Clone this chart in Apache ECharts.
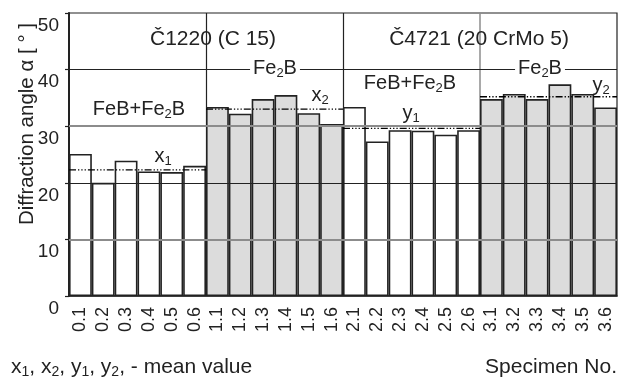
<!DOCTYPE html>
<html>
<head>
<meta charset="utf-8">
<script src="https://cdn.jsdelivr.net/npm/echarts@6/dist/echarts.min.js"></script>
<style>
html,body{margin:0;padding:0;background:#fff;}
#chart{width:618px;height:379px;}
</style>
</head>
<body>
<div id="chart"></div>
<script>
// ---- data ----
const categories = ['0.1','0.2','0.3','0.4','0.5','0.6',
                    '1.1','1.2','1.3','1.4','1.5','1.6',
                    '2.1','2.2','2.3','2.4','2.5','2.6',
                    '3.1','3.2','3.3','3.4','3.5','3.6'];
const angles = [25.1, 20.0, 23.9, 22.0, 21.9, 23.0,
                33.4, 32.2, 34.8, 35.5, 32.3, 30.4,
                33.4, 27.3, 29.3, 29.2, 28.5, 29.3,
                34.8, 35.7, 34.8, 37.4, 35.7, 33.3];
const groupSize = 6;
const groupPhases = ['FeB+Fe2B', 'Fe2B', 'FeB+Fe2B', 'Fe2B'];
const meanNames = ['x1', 'x2', 'y1', 'y2'];
const meanValues = [22.3, 33.0, 29.6, 35.2];
const yTicks = [0, 10, 20, 30, 40, 50];
const steels = ['Č1220 (C 15)', 'Č4721 (20 CrMo 5)'];
const yTitle = 'Diffraction angle α [ ° ]';
const xTitle = 'Specimen No.';

// ---- styles ----
const FONT = '"Liberation Sans", Arial, Helvetica, sans-serif';
const INK = '#222';
const GRAY = '#8c8c8c';
const FILL_GRAY = '#dcdcdc';

const chart = echarts.init(document.getElementById('chart'), null, {renderer: 'canvas'});

const barData = angles.map((v, i) => ({
  value: v,
  itemStyle: { color: groupPhases[Math.floor(i / groupSize)] === 'Fe2B' ? FILL_GRAY : '#ffffff' }
}));

const meanSeries = meanValues.map((m, g) => ({
  type: 'line',
  xAxisIndex: 1,
  z: 6,
  silent: true,
  symbol: 'none',
  data: [[g * groupSize, m], [(g + 1) * groupSize, m]],
  lineStyle: { color: '#000', width: 1.3, type: [7, 2, 1.3, 2, 1.3, 2, 1.3, 2] }
}));

const gridLevels = yTicks.filter(v => v > 0 && v < 50);

function richStyles(size) {
  return {
    sub: { fontSize: Math.round(size * 0.65), lineHeight: 12, verticalAlign: 'bottom', fontFamily: FONT, fill: INK },
    n: { fontSize: size, lineHeight: 24, fontFamily: FONT, fill: INK }
  };
}
function rtext(x, y, str, size, bg) {
  return {
    type: 'text', x: x, y: y, z: 100,
    style: {
      text: str,
      fontSize: size, fontFamily: FONT, fill: INK,
      align: 'center', verticalAlign: 'middle',
      lineHeight: 24,
      backgroundColor: bg || 'transparent',
      padding: bg ? [0, 3] : 0,
      rich: richStyles(size)
    }
  };
}
function withSub(s) {
  return s.replace(/([A-Za-z])(\d)/g, (m, a, d) => '{n|' + a + '}{sub|' + d + '}')
          .replace(/^([^{]*)/, (m, a) => a ? '{n|' + a + '}' : '')
          .replace(/}([^{}]+){/g, (m, a) => '}{n|' + a + '}{');
}

const option = {
  animation: false,
  backgroundColor: '#fff',
  grid: { left: 69, right: 1, top: 13, bottom: 83, show: true, borderColor: INK, borderWidth: 1.2, backgroundColor: 'transparent' },
  xAxis: [{
    type: 'category',
    data: categories,
    boundaryGap: true,
    axisLine: { show: true, lineStyle: { color: INK, width: 1.5 } },
    axisTick: { show: false },
    axisLabel: { interval: 0, rotate: 90, fontSize: 18, fontFamily: FONT, color: INK, margin: 11 }
  }, {
    type: 'value', min: 0, max: 24, show: false
  }],
  yAxis: {
    type: 'value', min: 0, max: 50, interval: 10,
    axisLine: { show: true, lineStyle: { color: INK, width: 2 } },
    axisTick: { show: true, length: 4, lineStyle: { color: INK, width: 1.2 } },
    axisLabel: { fontSize: 19, fontFamily: FONT, color: INK, margin: 10, verticalAlign: 'top', padding: [3, 0, 0, 0] },
    splitLine: { show: false }
  },
  series: [
    {
      type: 'line', xAxisIndex: 1, z: 1, silent: true, data: [],
      markLine: {
        z: 1,
        silent: true, symbol: 'none', label: { show: false },
        data: [
          { xAxis: 6, lineStyle: { color: INK, width: 1.2, type: 'solid' } },
          { xAxis: 12, lineStyle: { color: INK, width: 1.2, type: 'solid' } },
          { xAxis: 18, lineStyle: { color: GRAY, width: 1.5, type: 'solid' } }
        ]
      }
    },
    {
      type: 'bar', data: barData, barCategoryGap: 0, barGap: 0, z: 2,
      itemStyle: { borderColor: INK, borderWidth: 1.6 }
    },
    {
      type: 'line', xAxisIndex: 1, z: 5, silent: true, data: [],
      markLine: {
        z: 5,
        silent: true, symbol: 'none', label: { show: false },
        data: gridLevels.map(v => ({
          yAxis: v,
          lineStyle: (v % 20 === 10) ? { color: GRAY, width: 2, type: 'solid' } : { color: INK, width: 1.2, type: 'solid' }
        }))
      }
    }
  ].concat(meanSeries),
  graphic: [
    {
      type: 'text', x: 27, y: 124, rotation: Math.PI / 2, z: 100,
      style: { text: yTitle, fontSize: 20.5, fontFamily: FONT, fill: INK, align: 'center', verticalAlign: 'middle' }
    },
    rtext(213, 39, steels[0], 21),
    rtext(479, 39, steels[1], 21),
    rtext(275, 68, withSub(groupPhases[1]), 20, '#fff'),
    rtext(540, 68, withSub(groupPhases[3]), 20, '#fff'),
    rtext(139, 109, withSub(groupPhases[0]), 20),
    rtext(410, 83, withSub(groupPhases[2]), 20),
    rtext(163, 156, withSub(meanNames[0]), 20),
    rtext(320, 95, withSub(meanNames[1]), 20),
    rtext(411, 113, withSub(meanNames[2]), 20),
    rtext(601, 85, withSub(meanNames[3]), 20),
    {
      type: 'text', left: 11, top: 355, z: 100,
      style: {
        text: meanNames.map(withSub).join('{n|, }') + '{n|, - mean value}',
        fontFamily: FONT, fontSize: 21, fill: INK, lineHeight: 24,
        rich: richStyles(21)
      }
    },
    {
      type: 'text', right: 1, top: 355, z: 100,
      style: { text: xTitle, fontFamily: FONT, fontSize: 21, fill: INK, lineHeight: 24 }
    }
  ]
};
chart.setOption(option);
</script>
</body>
</html>
